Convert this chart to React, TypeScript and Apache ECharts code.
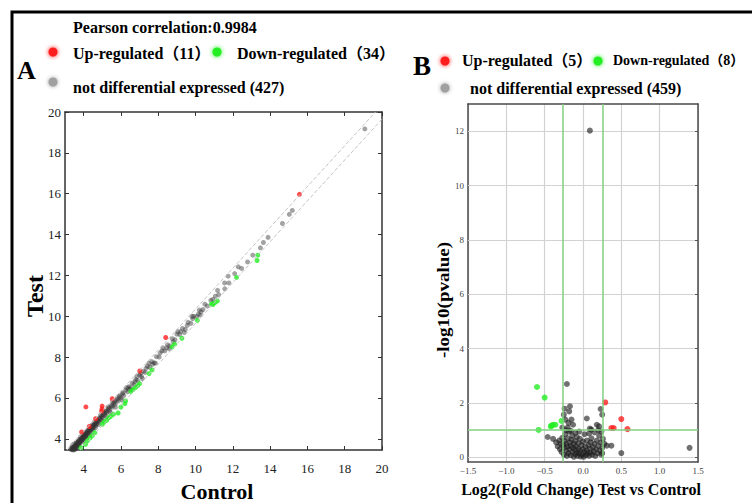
import React, { useEffect, useRef } from 'react';
import * as echarts from 'echarts';

// ---------- Panel A data (Control vs Test) ----------
const A_TICKS = [4, 6, 8, 10, 12, 14, 16, 18, 20];
const A_X_MIN = 3;
const A_Y_MIN = 3.45;
const A_MAX = 20;
const FOLD_OFFSET = 0.35;

const aUp: number[][] = [
  [4.12, 5.56], [3.89, 4.33], [4.3, 4.6], [4.64, 4.98], [4.99, 5.6], [4.99, 5.46],
  [4.96, 5.36], [5.53, 5.96], [7.01, 7.32], [8.4, 8.96], [15.57, 15.97],
];
const aDown: number[][] = [
  [3.86, 3.56], [4.1, 3.73], [4.46, 4.15], [5.0, 4.71], [5.1, 4.82], [5.23, 4.9],
  [5.35, 5.03], [5.85, 5.26], [6.21, 5.72], [6.25, 5.85], [6.53, 6.32], [6.65, 6.41],
  [6.78, 6.5], [7.51, 7.19], [7.67, 7.37], [8.88, 8.63], [9.27, 8.92], [10.1, 9.8],
  [10.93, 10.57], [11.02, 10.65], [11.17, 10.74], [10.85, 10.6], [12.2, 11.9],
  [13.3, 12.73], [13.34, 12.99], [4.2, 3.9], [4.35, 4.05], [4.6, 4.3], [5.45, 5.1],
  [5.6, 5.2], [6.0, 5.55], [6.9, 6.6], [7.0, 6.7], [8.75, 8.5],
];
const aNot: number[][] = [
  [3.32, 3.42], [3.35, 3.5], [3.38, 3.46], [3.4, 3.55], [3.42, 3.4], [3.45, 3.6], [3.48, 3.52],
  [3.5, 3.65], [3.52, 3.48], [3.55, 3.7], [3.57, 3.58], [3.6, 3.75], [3.62, 3.62], [3.65, 3.8],
  [3.68, 3.68], [3.7, 3.85], [3.72, 3.72], [3.75, 3.9], [3.78, 3.78], [3.8, 3.95], [3.82, 3.84],
  [3.85, 4.0], [3.88, 3.9], [3.9, 4.05], [3.93, 3.95], [3.95, 4.1], [3.98, 4.0], [4.0, 4.15],
  [4.03, 4.05], [4.05, 4.2], [4.08, 4.1], [4.1, 4.25], [4.13, 4.15], [4.15, 4.3], [4.18, 4.2],
  [4.2, 4.35], [4.25, 4.28], [4.28, 4.42], [4.32, 4.35], [4.35, 4.5], [4.4, 4.42], [4.42, 4.58],
  [4.47, 4.5], [4.5, 4.62], [4.55, 4.56], [4.58, 4.72], [4.62, 4.65], [4.66, 4.8], [4.7, 4.72],
  [4.75, 4.88], [4.8, 4.82], [4.85, 5.0], [4.9, 4.92], [4.95, 5.1], [5.0, 5.02], [5.05, 5.2],
  [5.12, 5.15], [5.18, 5.32], [5.25, 5.28], [5.32, 5.45], [5.4, 5.4], [5.48, 5.6], [5.55, 5.55],
  [5.62, 5.75], [5.7, 5.7], [5.78, 5.9], [5.85, 5.85], [5.92, 6.05], [6.0, 6.0], [6.08, 6.2],
  [6.15, 6.12], [6.25, 6.38], [6.35, 6.3], [6.42, 6.55], [6.5, 6.5], [6.6, 6.72], [6.7, 6.65],
  [6.8, 6.9], [6.9, 6.85], [7.0, 7.12], [7.1, 7.05], [7.2, 7.3], [7.3, 7.25], [7.42, 7.55],
  [7.55, 7.5], [7.65, 7.78], [7.78, 7.72], [7.9, 8.02], [8.05, 8.0], [8.2, 8.3], [8.35, 8.3],
  [8.5, 8.6], [8.62, 8.55], [8.75, 8.9], [8.9, 8.85], [9.0, 9.12], [9.15, 9.1], [9.3, 9.4],
  [9.45, 9.35], [9.6, 9.7], [9.75, 9.65], [9.9, 10.0], [10.05, 9.98], [10.2, 10.3], [10.3, 10.22],
  [10.4, 10.33], [10.5, 10.59], [10.63, 10.5], [10.82, 10.78], [10.93, 10.82], [11.06, 10.98],
  [11.24, 11.06], [11.18, 11.27], [11.57, 11.34], [11.56, 11.63], [11.79, 11.63], [11.75, 11.96],
  [12.1, 12.09], [12.29, 12.42], [12.47, 12.34], [12.79, 12.66], [13.07, 12.99], [13.48, 13.35],
  [13.64, 13.61], [13.89, 13.86], [14.66, 14.54], [15.03, 14.99], [15.19, 15.18], [19.08, 19.17],
  [3.33, 3.38], [3.36, 3.44], [3.4, 3.48], [3.44, 3.52], [3.47, 3.45], [3.5, 3.56], [3.54, 3.6],
  [3.58, 3.64], [3.6, 3.55], [3.64, 3.7], [3.7, 3.76], [3.74, 3.8], [3.78, 3.86], [3.84, 3.92],
  [3.9, 3.98], [3.96, 4.04], [4.02, 4.12], [4.08, 4.16], [4.14, 4.22], [4.2, 4.3], [4.3, 4.4],
  [4.38, 4.46], [4.46, 4.56], [4.52, 4.66], [4.6, 4.7], [4.68, 4.78], [4.78, 4.9], [4.88, 5.0],
  [5.0, 5.12], [5.1, 5.24], [5.22, 5.35], [5.35, 5.5], [5.5, 5.62], [5.65, 5.8], [5.8, 5.95],
  [6.1, 6.25], [6.4, 6.45], [6.75, 6.8], [7.05, 7.2], [7.35, 7.45], [7.7, 7.65], [8.1, 8.2],
  [8.45, 8.45], [8.8, 8.75], [9.2, 9.25], [9.55, 9.55], [9.85, 9.88], [10.15, 10.1],
  [3.3, 3.5], [3.36, 3.6], [3.42, 3.7], [3.5, 3.75], [3.55, 3.5], [3.62, 3.85], [3.66, 3.6],
  [3.72, 3.95], [3.76, 3.7], [3.84, 4.1], [3.9, 3.85], [3.95, 4.2], [4.0, 3.95], [4.06, 4.3],
  [4.12, 4.05], [4.18, 4.4], [4.24, 4.15], [4.3, 4.5], [4.36, 4.28], [4.44, 4.66], [4.5, 4.45],
  [4.56, 4.8], [4.64, 4.55], [4.72, 4.95], [4.8, 4.7], [4.9, 5.15], [5.0, 4.9], [5.1, 5.35],
  [5.2, 5.1], [5.3, 5.55], [5.42, 5.3], [5.55, 5.8], [5.7, 5.55], [5.9, 6.1], [6.05, 5.9],
  [6.3, 6.5], [6.55, 6.4], [6.85, 7.05], [7.15, 6.95], [7.5, 7.7], [7.85, 7.7], [8.25, 8.45],
  [8.6, 8.4], [9.05, 9.25], [9.4, 9.2], [9.8, 10.0], [10.25, 10.05],
];

// ---------- Panel B data (volcano) ----------
const B_TICKS_Y = [0, 2, 4, 6, 8, 10, 12];
const B_FC_CUT = 0.263;
const B_P_CUT = 1;

const bUp: number[][] = [
  [0.29, 2.02], [0.5, 1.41], [0.37, 1.08], [0.4, 1.08], [0.58, 1.04],
];
const bDown: number[][] = [
  [-0.6, 2.59], [-0.5, 2.2], [-0.58, 1.01], [-0.41, 1.17], [-0.39, 1.2], [-0.36, 1.2],
  [-0.28, 1.34], [-0.42, 1.14],
];
const bNot: number[][] = [
  [-0.46, 0.75], [-0.39, 0.68], [-0.35, 0.55], [-0.33, 0.4], [-0.31, 0.62], [-0.3, 0.3],
  [-0.29, 0.5], [-0.28, 0.2], [-0.27, 0.72], [-0.26, 0.45], [-0.25, 0.1], [-0.25, 0.35],
  [-0.24, 0.6], [-0.23, 0.85], [-0.22, 0.25], [-0.22, 0.5], [-0.21, 0.05], [-0.2, 0.4],
  [-0.2, 0.7], [-0.19, 0.15], [-0.18, 0.95], [-0.18, 0.3], [-0.17, 0.55], [-0.16, 0.08],
  [-0.16, 0.42], [-0.15, 0.65], [-0.14, 0.2], [-0.14, 0.8], [-0.13, 0.35], [-0.12, 0.02],
  [-0.12, 0.5], [-0.11, 0.28], [-0.1, 0.12], [-0.1, 0.6], [-0.09, 0.4], [-0.08, 0.18],
  [-0.08, 0.75], [-0.07, 0.05], [-0.06, 0.32], [-0.06, 0.52], [-0.05, 0.15], [-0.04, 0.68],
  [-0.04, 0.25], [-0.03, 0.03], [-0.02, 0.45], [-0.01, 0.1], [0.0, 0.3], [0.0, 0.58],
  [0.01, 0.02], [0.02, 0.2], [0.03, 0.4], [0.04, 0.08], [0.05, 0.62], [0.05, 0.25],
  [0.06, 0.15], [0.07, 0.45], [0.08, 0.05], [0.09, 0.32], [0.1, 0.55], [0.1, 0.18],
  [0.11, 0.7], [0.12, 0.1], [0.13, 0.38], [0.14, 0.22], [0.15, 0.5], [0.16, 0.05],
  [0.17, 0.3], [0.18, 0.62], [0.19, 0.15], [0.2, 0.42], [0.21, 0.8], [0.22, 0.25],
  [0.23, 0.55], [0.24, 0.1], [0.25, 0.35], [0.26, 0.68], [0.25, 0.16], [0.28, 0.5],
  [0.31, 0.43], [0.37, 0.43], [0.5, 0.16], [1.39, 0.35],
  [-0.17, 1.88], [-0.18, 1.69], [-0.24, 1.79], [-0.25, 1.57], [-0.23, 1.39], [-0.15, 1.39],
  [-0.19, 1.27], [-0.13, 1.2], [0.05, 1.43], [0.23, 1.78], [0.25, 1.57], [0.18, 1.2],
  [0.21, 1.14], [0.09, 1.06], [0.11, 1.02], [-0.21, 2.7], [0.09, 12.02],
  [-0.2, 1.1], [-0.22, 1.0], [-0.16, 0.98], [-0.1, 0.9], [-0.05, 0.95], [0.15, 0.92],
  [0.2, 1.0], [0.24, 0.95], [-0.27, 1.1], [0.02, 0.85], [0.08, 0.88],
];

const SERIF = '"Liberation Serif", "Times New Roman", "Noto Sans CJK SC", serif';
const RED = '#ff1f1f';
const GREEN = '#22ee22';

function txt(text: string, x: number, y: number, size: number, extra: any = {}) {
  return {
    type: 'text',
    x,
    y,
    rotation: extra.rotation || 0,
    scaleX: extra.scaleX || 1,
    style: {
      text,
      fill: '#000',
      fontFamily: SERIF,
      fontWeight: 'bold',
      fontSize: size,
      align: extra.align || 'left',
      verticalAlign: 'middle',
    },
  };
}

function dot(x: number, y: number, color: string) {
  return {
    type: 'circle',
    shape: { cx: x, cy: y, r: 4.5 },
    style: { fill: color, shadowBlur: 4, shadowColor: color },
  };
}

export default function App() {
  const ref = useRef<HTMLDivElement>(null);
  useEffect(() => {
    if (!ref.current) return;
    const chart = echarts.init(ref.current, undefined, { renderer: 'svg' });
    const tickLabelA = { fontFamily: SERIF, fontSize: 13, color: '#222' };
    const fmtB = (v: number) => v.toFixed(1).replace('-', '\u2212');
    const lineA = { onZero: false, lineStyle: { color: '#333', width: 1.5 } };
    const lineB = { onZero: false, lineStyle: { color: '#4a4a4a', width: 1.5 } };
    const option: any = {
      animation: false,
      backgroundColor: '#fff',
      grid: [
        { left: 65, top: 112, width: 317, height: 338 },
        { left: 468, top: 104, width: 230, height: 358 },
      ],
      xAxis: [
        {
          gridIndex: 0, type: 'value', min: A_X_MIN, max: A_MAX, position: 'bottom',
          axisLine: lineA,
          axisTick: { inside: true, length: 4, customValues: A_TICKS, lineStyle: { color: '#333' } },
          axisLabel: { ...tickLabelA, margin: 12, customValues: A_TICKS },
          splitLine: { show: false },
        },
        {
          gridIndex: 0, type: 'value', min: A_X_MIN, max: A_MAX, position: 'top',
          axisLine: lineA,
          axisTick: { inside: true, length: 4, customValues: A_TICKS, lineStyle: { color: '#333' } },
          axisLabel: { show: false },
          splitLine: { show: false },
        },
        {
          gridIndex: 1, type: 'value', min: -1.5, max: 1.5, interval: 0.5, position: 'bottom',
          axisLine: lineB,
          axisTick: { show: false },
          axisLabel: { fontFamily: SERIF, fontSize: 9, color: '#444', margin: 4, formatter: fmtB },
          splitLine: { show: true, lineStyle: { color: '#d2d2d2', width: 1.2 } },
        },
        {
          gridIndex: 1, type: 'value', min: -1.5, max: 1.5, interval: 0.5, position: 'top',
          axisLine: lineB,
          axisTick: { show: false },
          axisLabel: { show: false },
          splitLine: { show: false },
        },
      ],
      yAxis: [
        {
          gridIndex: 0, type: 'value', min: A_Y_MIN, max: A_MAX, position: 'left',
          axisLine: lineA,
          axisTick: { inside: true, length: 4, customValues: A_TICKS, lineStyle: { color: '#333' } },
          axisLabel: { ...tickLabelA, margin: 4, customValues: A_TICKS },
          splitLine: { show: false },
        },
        {
          gridIndex: 0, type: 'value', min: A_Y_MIN, max: A_MAX, position: 'right',
          axisLine: lineA,
          axisTick: { inside: true, length: 4, customValues: A_TICKS, lineStyle: { color: '#333' } },
          axisLabel: { show: false },
          splitLine: { show: false },
        },
        {
          gridIndex: 1, type: 'value', min: -0.17, max: 13, position: 'left',
          axisLine: lineB,
          axisTick: { show: true, inside: true, length: 3, customValues: B_TICKS_Y, lineStyle: { color: '#d2d2d2' } },
          axisLabel: { fontFamily: SERIF, fontSize: 9, color: '#444', margin: 4, customValues: B_TICKS_Y },
          splitLine: { show: true, lineStyle: { color: '#d2d2d2', width: 1.2 } },
        },
        {
          gridIndex: 1, type: 'value', min: -0.17, max: 13, position: 'right',
          axisLine: lineB,
          axisTick: { show: true, inside: true, length: 3, customValues: B_TICKS_Y, lineStyle: { color: '#555' } },
          axisLabel: { show: false },
          splitLine: { show: false },
        },
      ],
      series: [
        {
          type: 'line', xAxisIndex: 0, yAxisIndex: 0, silent: true, showSymbol: false,
          data: [[A_Y_MIN - FOLD_OFFSET, A_Y_MIN], [A_MAX - FOLD_OFFSET, A_MAX]],
          lineStyle: { type: 'dashed', color: '#c4c4c4', width: 1 },
        },
        {
          type: 'line', xAxisIndex: 0, yAxisIndex: 0, silent: true, showSymbol: false,
          data: [[A_Y_MIN + FOLD_OFFSET, A_Y_MIN], [A_MAX, A_MAX - FOLD_OFFSET]],
          lineStyle: { type: 'dashed', color: '#c4c4c4', width: 1 },
        },
        {
          type: 'scatter', xAxisIndex: 0, yAxisIndex: 0, data: aNot, symbolSize: 5,
          itemStyle: { color: '#333', opacity: 0.45 },
        },
        {
          type: 'scatter', xAxisIndex: 0, yAxisIndex: 0, data: aUp, symbolSize: 5,
          itemStyle: { color: RED },
        },
        {
          type: 'scatter', xAxisIndex: 0, yAxisIndex: 0, data: aDown, symbolSize: 5,
          itemStyle: { color: GREEN },
        },
        {
          type: 'scatter', xAxisIndex: 2, yAxisIndex: 2, data: bNot, symbolSize: 6,
          itemStyle: { color: '#1a1a1a', opacity: 0.62 },
          markLine: {
            silent: true, symbol: 'none', label: { show: false },
            lineStyle: { color: '#80d080', width: 1.5, type: 'solid' },
            data: [{ xAxis: -B_FC_CUT }, { xAxis: B_FC_CUT }, { yAxis: B_P_CUT }],
          },
        },
        {
          type: 'scatter', xAxisIndex: 2, yAxisIndex: 2, data: bUp, symbolSize: 6,
          itemStyle: { color: RED },
        },
        {
          type: 'scatter', xAxisIndex: 2, yAxisIndex: 2, data: bDown, symbolSize: 6,
          itemStyle: { color: GREEN },
        },
      ],
      graphic: [
        {
          type: 'rect', shape: { x: 12, y: 12, width: 900, height: 700 },
          style: { fill: 'none', stroke: '#000', lineWidth: 3 }, silent: true,
        },
        txt('A', 17, 70, 26),
        txt('Pearson correlation:0.9984', 73, 27, 16),
        dot(53, 52, RED),
        txt('Up-regulated（11）', 73, 53, 16),
        dot(217, 52, GREEN),
        txt('Down-regulated（34）', 237, 53, 16),
        dot(53, 82, '#a0a0a0'),
        txt('not differential expressed (427)', 73, 87, 16),
        txt('Test', 35, 296, 24, { rotation: Math.PI / 2, align: 'center' }),
        txt('Control', 217, 491, 22, { align: 'center' }),
        txt('B', 413, 66, 27),
        dot(445, 61, RED),
        txt('Up-regulated（5）', 462, 60, 16),
        dot(598, 61, GREEN),
        txt('Down-regulated（8）', 613, 60, 14),
        dot(445, 88, '#a0a0a0'),
        txt('not differential expressed (459)', 470, 88, 16),
        txt('-log10(pvalue)', 443, 300, 17, { rotation: Math.PI / 2, align: 'center', scaleX: 1.12 }),
        txt('Log2(Fold Change) Test vs Control', 581, 489, 16, { align: 'center' }),
      ],
    };
    chart.setOption(option);
    return () => chart.dispose();
  }, []);
  return (
    <div
      ref={ref}
      style={{ position: 'fixed', left: 0, top: 0, width: 752, height: 503 }}
    />
  );
}
